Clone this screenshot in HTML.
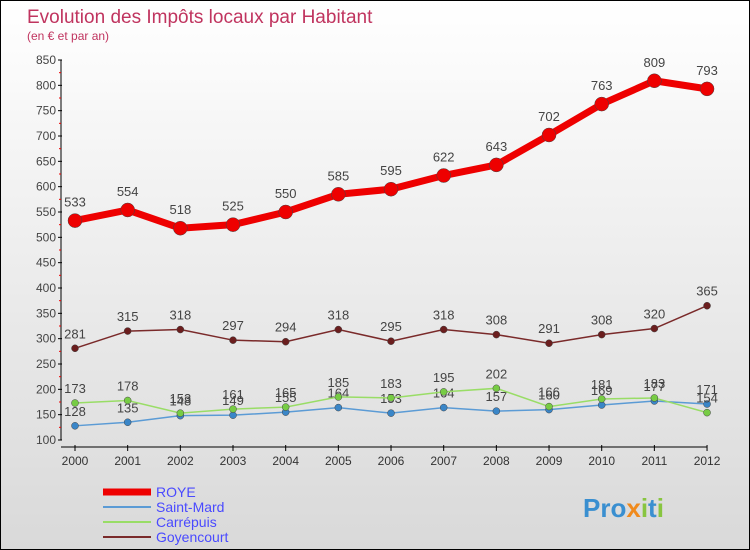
<!DOCTYPE html>
<html><head><meta charset="utf-8">
<style>
body{margin:0;width:750px;height:550px;overflow:hidden;font-family:"Liberation Sans",sans-serif}
#wrap{position:relative;width:748px;height:548px;border:1px solid #000;background:linear-gradient(#ffffff,#d9d9d9)}
</style></head><body>
<div id="wrap">
<svg id="chart" width="748" height="548" style="position:absolute;left:0;top:0"></svg>
</div>
<script>
const years=["2000","2001","2002","2003","2004","2005","2006","2007","2008","2009","2010","2011","2012"];
const roye=[533,554,518,525,550,585,595,622,643,702,763,809,793];
const saintMard=[128,135,148,149,155,164,153,164,157,160,169,177,171];
const carrepuis=[173,178,153,161,165,185,183,195,202,166,181,183,154];
const goyencourt=[281,315,318,297,294,318,295,318,308,291,308,320,365];
const yTicks=[100,150,200,250,300,350,400,450,500,550,600,650,700,750,800,850];
const NS="http://www.w3.org/2000/svg";
const svg=document.getElementById('chart');
function X(i){return 74+i*52.67;}
function Y(v){return 439-(v-100)*380/750;}
function mk(t,a,p){const e=document.createElementNS(NS,t);for(const k in a)e.setAttribute(k,a[k]);(p||svg).appendChild(e);return e;}
function txt(x,y,s,a,p){const e=mk('text',Object.assign({x:x,y:y},a),p);e.textContent=s;return e;}
const title=txt(26,22,"Evolution des Impôts locaux par Habitant",{fill:"#c0345f","font-size":"19"});


const sub=txt(26,39,"(en € et par an)",{fill:"#c0345f","font-size":"12"});


const ax=mk('g',{});


mk('line',{x1:60,y1:Y(850),x2:60,y2:Y(100),stroke:"#000"},ax);
yTicks.forEach(v=>{mk('line',{x1:57,y1:Y(v),x2:61,y2:Y(v),stroke:"#000"},ax);
mk('line',{x1:58,y1:Y(v+25),x2:60,y2:Y(v+25),stroke:v<850?"#e00":"none"},ax);
const t=txt(55,Y(v)+4,String(v),{"text-anchor":"end","font-size":"12",fill:"#444"},ax);

});
const xa=mk('g',{});


mk('line',{x1:60,y1:446,x2:X(12),y2:446,stroke:"#000"},xa);
years.forEach((y,i)=>{mk('line',{x1:X(i),y1:444,x2:X(i),y2:450,stroke:"#000"},xa);
const t=txt(X(i),464,y,{"text-anchor":"middle","font-size":"12",fill:"#333"},xa);

});
function series(data,color,dot,w,r,name,lab){
const g=mk('g',{});


mk('polyline',{points:data.map((v,i)=>X(i)+","+Y(v)).join(" "),fill:"none",stroke:color,"stroke-width":w},g);
data.forEach((v,i)=>{const c=mk('circle',{cx:X(i),cy:Y(v),r:r,fill:dot,stroke:"#444","stroke-width":0.5},g);


const t=txt(X(i),Y(v)-lab,String(v),{"text-anchor":"middle","font-size":"13",fill:"#444"},g);

});}
series(goyencourt,"#7a2a2a","#6b1e1e",1.5,3.5,"series-goyencourt",10);
series(saintMard,"#5b9bd5","#3a86c8",1.5,3.5,"series-saint-mard",10);
series(carrepuis,"#99dd66","#77cc44",1.5,3.5,"series-carrepuis",10);
series(roye,"#ee0000","#ee0000",7,7,"series-roye",14);
const lg=[["ROYE","#ee0000",7],["Saint-Mard","#5b9bd5",2],["Carrépuis","#99dd66",2],["Goyencourt","#7a2a2a",2]];
lg.forEach((l,i)=>{const g=mk('g',{});


const y=491+i*15;
mk('line',{x1:102,y1:y,x2:150,y2:y,stroke:l[1],"stroke-width":l[2]},g);
txt(155,y+5,l[0],{"font-size":"14",fill:"#4a4aff"},g);});
const logo=mk('text',{x:582,y:516,"font-size":"26","font-weight":"bold"});


[["Pro","#3a8fd0"],["x","#f08a1c"],["i","#88c540"],["t","#3a8fd0"],["i","#88c540"]].forEach(p=>{const s=mk('tspan',{fill:p[1]},logo);s.textContent=p[0];});
</script>
</body></html>
